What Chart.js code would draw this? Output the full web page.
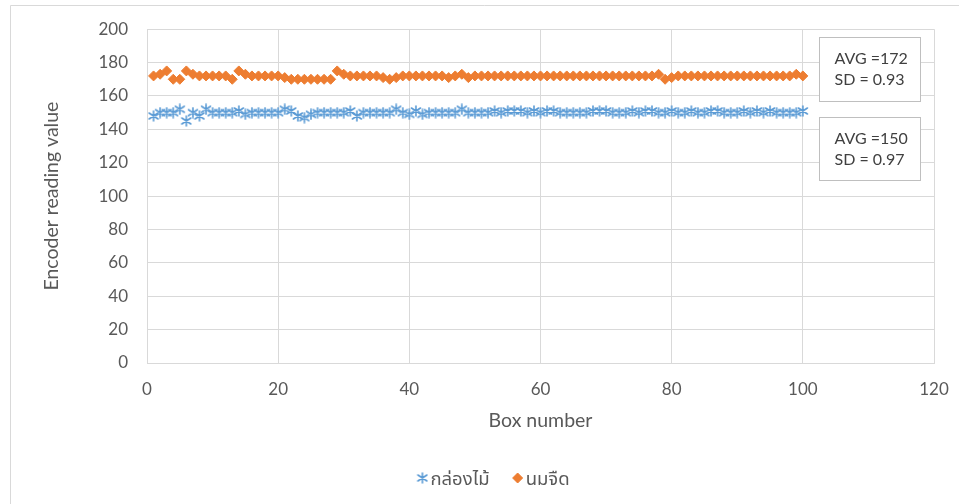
<!DOCTYPE html>
<html>
<head>
<meta charset="utf-8">
<script src="https://cdn.jsdelivr.net/npm/chart.js@4.4.1/dist/chart.umd.min.js"></script>
<style>
  html, body { margin: 0; padding: 0; background: #ffffff; }
  #wrap { width: 959px; height: 504px; position: relative; }
</style>
</head>
<body>
<div id="wrap"><canvas id="c" width="959" height="504"></canvas></div>
<script>
// Box numbers (x values)
const boxNumbers = [
  1, 2, 3, 4, 5, 6, 7, 8, 9, 10, 11, 12, 13, 14, 15, 16, 17, 18, 19, 20,
  21, 22, 23, 24, 25, 26, 27, 28, 29, 30, 31, 32, 33, 34, 35, 36, 37, 38, 39, 40,
  41, 42, 43, 44, 45, 46, 47, 48, 49, 50, 51, 52, 53, 54, 55, 56, 57, 58, 59, 60,
  61, 62, 63, 64, 65, 66, 67, 68, 69, 70, 71, 72, 73, 74, 75, 76, 77, 78, 79, 80,
  81, 82, 83, 84, 85, 86, 87, 88, 89, 90, 91, 92, 93, 94, 95, 96, 97, 98, 99, 100
];

// Encoder readings for the wooden box
const woodBoxValues = [
  148, 150, 150, 150, 152, 145, 150, 148, 152, 150, 150, 150, 150, 151, 149, 150, 150, 150, 150, 150,
  152, 151, 148, 147, 149, 150, 150, 150, 150, 150, 151, 148, 150, 150, 150, 150, 150, 152, 150, 149,
  151, 149, 150, 150, 150, 150, 150, 152, 150, 150, 150, 150, 151, 150, 151, 151, 151, 150, 151, 150,
  151, 151, 150, 150, 150, 150, 150, 151, 151, 151, 150, 150, 150, 151, 150, 151, 151, 150, 150, 151,
  150, 150, 151, 150, 150, 151, 151, 150, 150, 150, 151, 150, 151, 150, 151, 150, 150, 150, 150, 151
];

// Encoder readings for the milk carton
const milkValues = [
  172, 173, 175, 170, 170, 175, 173, 172, 172, 172, 172, 172, 170, 175, 173, 172, 172, 172, 172, 172,
  171, 170, 170, 170, 170, 170, 170, 170, 175, 173, 172, 172, 172, 172, 172, 171, 170, 171, 172, 172,
  172, 172, 172, 172, 172, 171, 172, 173, 171, 172, 172, 172, 172, 172, 172, 172, 172, 172, 172, 172,
  172, 172, 172, 172, 172, 172, 172, 172, 172, 172, 172, 172, 172, 172, 172, 172, 172, 173, 170, 171,
  172, 172, 172, 172, 172, 172, 172, 172, 172, 172, 172, 172, 172, 172, 172, 172, 172, 172, 173, 172
];

const seriesLabels = ['กล่องไม้', 'นมจืด'];
const xTickValues = [0, 20, 40, 60, 80, 100, 120];
const yTickValues = [0, 20, 40, 60, 80, 100, 120, 140, 160, 180, 200];
const statNotes = [
  ['AVG =172', 'SD = 0.93'],
  ['AVG =150', 'SD = 0.97']
];

const BLUE = '#5b9bd5';
const ORANGE = '#ed7d31';
const TEXT = '#595959';
const GRID = '#d9d9d9';
const FONT = 'Lato, "Noto Sans Thai", "Noto Sans", sans-serif';

// Asterisk marker: an X with a vertical bar
function makeAsterisk(color) {
  const c = document.createElement('canvas');
  c.width = 12; c.height = 12;
  const g = c.getContext('2d');
  g.strokeStyle = color;
  g.lineWidth = 1.6;
  g.lineCap = 'round';
  g.beginPath();
  g.moveTo(6, 1); g.lineTo(6, 11);
  g.moveTo(1.5, 3); g.lineTo(10.5, 9);
  g.moveTo(1.5, 9); g.lineTo(10.5, 3);
  g.stroke();
  return c;
}
const asterisk = makeAsterisk(BLUE);

const toPoints = (xs, ys) => xs.map((x, i) => ({ x: x, y: ys[i] }));

// Outer frame of the chart
const framePlugin = {
  id: 'frame',
  beforeDraw(chart) {
    const ctx = chart.ctx;
    ctx.save();
    ctx.strokeStyle = GRID;
    ctx.lineWidth = 1;
    ctx.beginPath();
    ctx.moveTo(10.5, 504);
    ctx.lineTo(10.5, 5.5);
    ctx.lineTo(959, 5.5);
    ctx.stroke();
    ctx.restore();
  }
};

// Text boxes with the mean / SD of each series
const notesPlugin = {
  id: 'notes',
  afterDraw(chart) {
    const ctx = chart.ctx;
    const boxes = [
      { x: 819.5, y: 37.5, w: 101, h: 64 },
      { x: 819.5, y: 117.5, w: 101, h: 63 }
    ];
    ctx.save();
    ctx.font = '16px ' + FONT;
    ctx.textBaseline = 'middle';
    ctx.textAlign = 'left';
    boxes.forEach((b, i) => {
      ctx.fillStyle = '#ffffff';
      ctx.fillRect(b.x, b.y, b.w, b.h);
      ctx.strokeStyle = '#bfbfbf';
      ctx.lineWidth = 1;
      ctx.strokeRect(b.x, b.y, b.w, b.h);
      ctx.fillStyle = '#404040';
      ctx.fillText(statNotes[i][0], b.x + 15, b.y + 21);
      ctx.fillText(statNotes[i][1], b.x + 15, b.y + 42);
    });
    ctx.restore();
  }
};

// Legend drawn under the axis title
const legendPlugin = {
  id: 'bottomLegend',
  afterDraw(chart) {
    const ctx = chart.ctx;
    const cy = 478;
    const centerX = 494;
    ctx.save();
    ctx.font = '18.5px ' + FONT;
    ctx.textBaseline = 'middle';
    ctx.textAlign = 'left';
    const items = chart.data.datasets.map(ds => ({
      label: ds.label, style: ds.pointStyle, color: ds.borderColor,
      w: 14 + ctx.measureText(ds.label).width
    }));
    const gap = 22;
    const total = items.reduce((s, it) => s + it.w, 0) + gap * (items.length - 1);
    let x = centerX - total / 2;
    items.forEach(it => {
      ctx.fillStyle = it.color;
      ctx.strokeStyle = it.color;
      Chart.helpers.drawPoint(ctx, { pointStyle: it.style, radius: 5, borderWidth: 1, rotation: 0 }, x + 5, cy);
      ctx.fillStyle = TEXT;
      ctx.fillText(it.label, x + 13, cy + 1);
      x += it.w + gap;
    });
    ctx.restore();
  }
};

new Chart(document.getElementById('c'), {
  type: 'scatter',
  data: {
    datasets: [
      {
        label: seriesLabels[0],
        data: toPoints(boxNumbers, woodBoxValues),
        pointStyle: asterisk,
        borderColor: BLUE,
        backgroundColor: BLUE,
        pointRadius: 5,
        showLine: false
      },
      {
        label: seriesLabels[1],
        data: toPoints(boxNumbers, milkValues),
        pointStyle: 'rectRot',
        borderColor: ORANGE,
        backgroundColor: ORANGE,
        pointRadius: 5,
        borderWidth: 1,
        showLine: false
      }
    ]
  },
  options: {
    responsive: false,
    animation: false,
    devicePixelRatio: 1,
    layout: { padding: { left: 0, top: 28, right: 25, bottom: 71 } },
    plugins: {
      legend: { display: false },
      tooltip: { enabled: false }
    },
    scales: {
      x: {
        type: 'linear',
        min: 0, max: 120,
        afterBuildTicks: s => { s.ticks = xTickValues.map(v => ({ value: v })); },
        afterFit: s => { s.height = 70; s.paddingLeft = 0; s.paddingRight = 0; },
        grid: { color: GRID, drawTicks: false },
        border: { color: GRID },
        ticks: { color: TEXT, font: { family: FONT, size: 17 }, padding: 16 },
        title: { display: true, text: 'Box number', color: TEXT,
                 font: { family: FONT, size: 19.5 }, padding: { top: 0, bottom: 1 } }
      },
      y: {
        type: 'linear',
        min: 0, max: 200,
        afterBuildTicks: s => { s.ticks = yTickValues.map(v => ({ value: v })); },
        afterFit: s => { s.width = 147; },
        grid: { color: GRID, drawTicks: false },
        border: { color: GRID },
        ticks: { color: TEXT, font: { family: FONT, size: 17 }, padding: 19 },
        title: { display: true, text: 'Encoder reading value', color: TEXT,
                 font: { family: FONT, size: 19.5 }, padding: { top: 40, bottom: 0 } }
      }
    }
  },
  plugins: [framePlugin, notesPlugin, legendPlugin]
});
</script>
</body>
</html>
